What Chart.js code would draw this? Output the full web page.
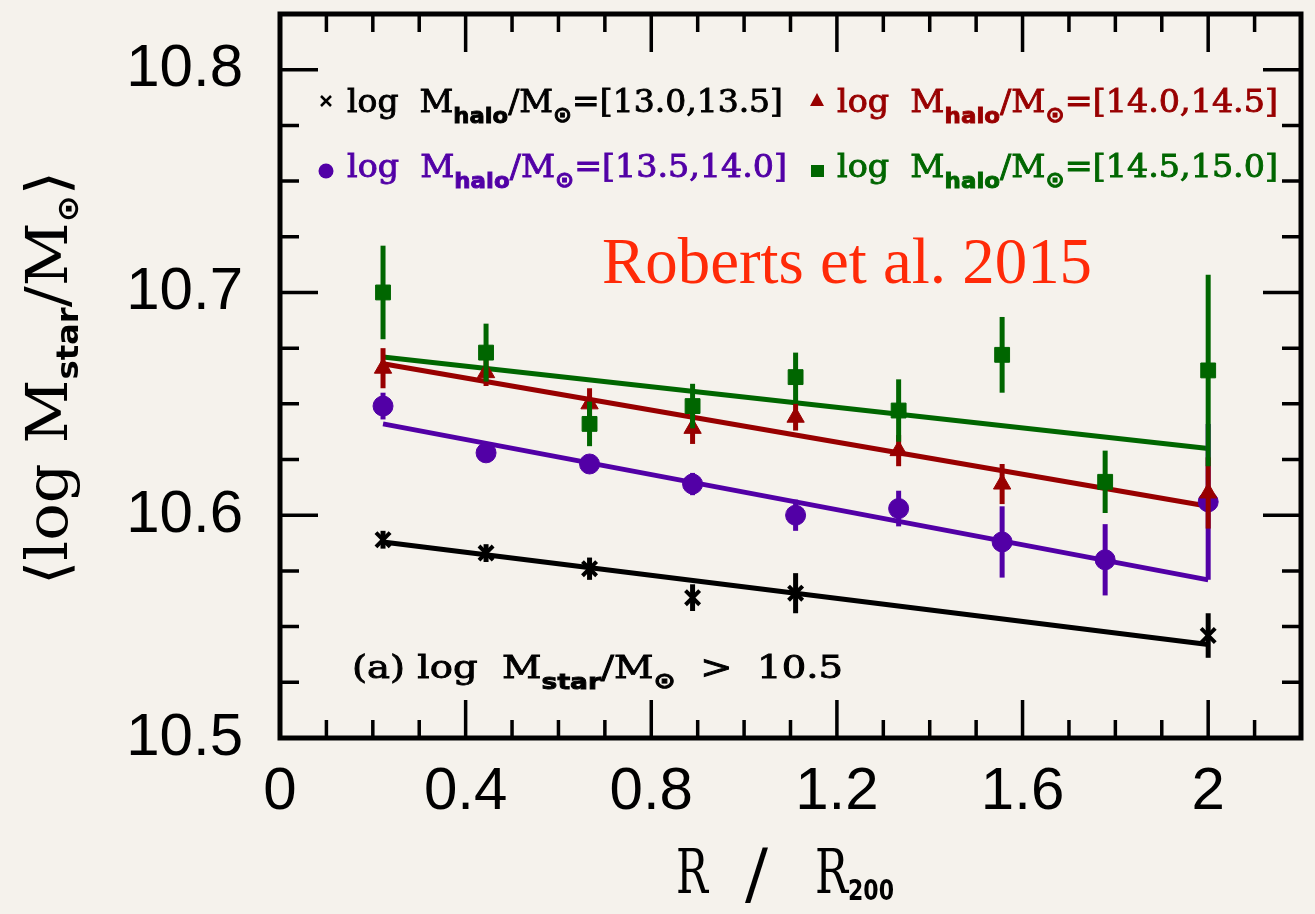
<!DOCTYPE html>
<html>
<head>
  <title>Mean stellar mass vs clustercentric radius</title>
  <script src="https://cdn.jsdelivr.net/npm/chart.js"></script>
  <style>
    html, body { margin: 0; padding: 0; background: #f5f2ec; }
    canvas { display: block; }
  </style>
</head>
<body>
  <canvas id="massChart" width="1315" height="914"></canvas>

  <script>
    // radial bins (R / R200)
    const xBins = [0.222, 0.444, 0.667, 0.889, 1.111, 1.333, 1.556, 1.778, 2.0];

    // <log Mstar/Msun> per halo mass bin, with error bar half-lengths
    const blackY   = [10.589, 10.583, 10.576, 10.563, 10.565, null, null, null, 10.546];
    const blackErr = [0.004, 0.004, 0.005, 0.006, 0.009, null, null, null, 0.010];
    const purpleY   = [10.649, 10.628, 10.623, 10.614, 10.600, 10.603, 10.588, 10.580, 10.606];
    const purpleErr = [0.006, 0.004, 0.004, 0.005, 0.007, 0.008, 0.016, 0.016, 0.035];
    const redY   = [10.666, 10.664, 10.650, 10.639, 10.644, 10.629, 10.614, null, 10.610];
    const redErr = [0.009, 0.006, 0.007, 0.007, 0.006, 0.007, 0.009, null, 0.016];
    const greenY   = [10.700, 10.673, 10.641, 10.649, 10.662, 10.647, 10.672, 10.615, 10.665];
    const greenErr = [0.021, 0.013, 0.010, 0.010, 0.011, 0.014, 0.017, 0.014, 0.043];

    // straight-line fits (end points)
    const fitX = [0.222, 2.0];
    const blackFit  = [10.588, 10.542];
    const purpleFit = [10.641, 10.571];
    const redFit    = [10.668, 10.604];
    const greenFit  = [10.671, 10.630];

    const xTickValues = [0, 0.4, 0.8, 1.2, 1.6, 2];
    const yTickValues = [10.5, 10.6, 10.7, 10.8];

    const legendRanges = ['[13.0,13.5]', '[14.0,14.5]', '[13.5,14.0]', '[14.5,15.0]'];

    const BLACK = '#000000', PURPLE = '#5200a6', RED = '#980000', GREEN = '#006600';

    function points(ys) {
      return xBins.map((x, i) => ({ x: x, y: ys[i] }));
    }
    function fitLine(ys) {
      return fitX.map((x, i) => ({ x: x, y: ys[i] }));
    }

    function pointSet(label, ys, errs, color, style, radius, order) {
      return {
        label: label, data: points(ys), errors: errs,
        pointStyle: style, pointRadius: radius,
        backgroundColor: color, borderColor: color,
        borderWidth: style === 'crossRot' ? 4 : 1,
        showLine: false, order: order
      };
    }
    function lineSet(label, ys, color) {
      return {
        label: label, data: fitLine(ys), showLine: true,
        borderColor: color, borderWidth: 5, pointRadius: 0, order: 20
      };
    }

    // error bars, drawn just before the points of each dataset
    const errorBars = {
      id: 'errorBars',
      beforeDatasetDraw(chart, args) {
        const ds = chart.data.datasets[args.index];
        if (!ds.errors) return;
        const c = chart.ctx, xs = chart.scales.x, ys = chart.scales.y;
        c.save();
        c.strokeStyle = ds.borderColor;
        c.lineWidth = 5;
        ds.data.forEach((p, i) => {
          if (p.y == null || ds.errors[i] == null) return;
          const px = xs.getPixelForValue(p.x);
          c.beginPath();
          c.moveTo(px, ys.getPixelForValue(p.y - ds.errors[i]));
          c.lineTo(px, ys.getPixelForValue(p.y + ds.errors[i]));
          c.stroke();
        });
        c.restore();
      }
    };

    // text pieces with sub-scripts, squeezed to a given width
    function drawRich(c, parts, x, y, targetW, weight) {
      let w = 0;
      parts.forEach(p => { c.font = p.font; w += c.measureText(p.t).width; });
      const sx = targetW ? targetW / w : 1;
      c.save();
      c.translate(x, y);
      c.scale(sx, 1);
      c.strokeStyle = c.fillStyle;
      c.lineWidth = weight || 0;
      let cx = 0;
      parts.forEach(p => {
        c.font = p.font;
        c.fillText(p.t, cx, p.dy || 0);
        if (weight) c.strokeText(p.t, cx, p.dy || 0);
        cx += c.measureText(p.t).width;
      });
      c.restore();
    }

    const serif = '"DejaVu Serif", serif';
    const sans = '"DejaVu Sans", sans-serif';

    // frame, inward ticks, legend and annotations
    const decorations = {
      id: 'decorations',
      afterDraw(chart) {
        const c = chart.ctx, a = chart.chartArea;
        const xs = chart.scales.x, ys = chart.scales.y;
        c.save();
        c.strokeStyle = '#000';
        c.lineWidth = 3.5;
        // x ticks every 0.1, long ones at labelled values
        for (let k = 1; k < 22; k++) {
          const v = k / 10;
          const major = xTickValues.some(t => Math.abs(t - v) < 1e-6);
          const len = major ? 38 : 18;
          const px = xs.getPixelForValue(v);
          c.beginPath();
          c.moveTo(px, a.bottom); c.lineTo(px, a.bottom - len);
          c.moveTo(px, a.top); c.lineTo(px, a.top + len);
          c.stroke();
        }
        // y ticks every 0.025
        for (let k = 1; k < 13; k++) {
          const v = 10.5 + k * 0.025;
          const major = yTickValues.some(t => Math.abs(t - v) < 1e-6);
          const len = major ? 38 : 19;
          const py = ys.getPixelForValue(v);
          c.beginPath();
          c.moveTo(a.left, py); c.lineTo(a.left + len, py);
          c.moveTo(a.right, py); c.lineTo(a.right - len, py);
          c.stroke();
        }
        c.lineWidth = 5;
        c.strokeRect(a.left, a.top, a.right - a.left, a.bottom - a.top);

        // legend
        const main = '32px ' + serif, sub = 'bold 22px ' + sans;
        const colors = [BLACK, RED, PURPLE, GREEN];
        const pos = [[347, 112, 436], [837, 112, 441], [347, 177, 440], [837, 177, 441]];
        colors.forEach((col, i) => {
          c.fillStyle = col;
          drawRich(c, [
            { t: 'log  M', font: main },
            { t: 'halo', font: sub, dy: 11 },
            { t: '/M', font: main },
            { t: '⊙', font: sub, dy: 10 },
            { t: '=' + legendRanges[i], font: main }
          ], pos[i][0], pos[i][1], pos[i][2], 0.9);
        });
        // legend markers
        c.strokeStyle = BLACK; c.lineWidth = 2.5;
        c.beginPath();
        c.moveTo(321, 96); c.lineTo(331, 106);
        c.moveTo(331, 96); c.lineTo(321, 106);
        c.stroke();
        c.fillStyle = RED;
        c.beginPath(); c.moveTo(817, 93); c.lineTo(824, 106); c.lineTo(810, 106); c.closePath(); c.fill();
        c.fillStyle = PURPLE;
        c.beginPath(); c.arc(326, 171, 7.5, 0, Math.PI * 2); c.fill();
        c.fillStyle = GREEN;
        c.fillRect(811, 165, 13, 12);

        // sample label
        c.fillStyle = '#ff2a08';
        drawRich(c, [{ t: 'Roberts et al. 2015', font: '65px "Liberation Serif", serif' }], 602, 283, 490);

        // panel note
        c.fillStyle = '#000';
        drawRich(c, [
          { t: '(a) log  M', font: main },
          { t: 'star', font: sub, dy: 11 },
          { t: '/M', font: main },
          { t: '⊙', font: sub, dy: 10 },
          { t: '  >  10.5', font: main }
        ], 352, 678, 491, 0.9);

        // y title (rotated)
        c.save();
        c.translate(67, 585);
        c.rotate(-Math.PI / 2);
        drawRich(c, [
          { t: '⟨log M', font: '58px ' + serif },
          { t: 'star', font: 'bold 30px ' + sans, dy: 11 },
          { t: '/M', font: '58px ' + serif },
          { t: '⊙', font: 'bold 30px ' + sans, dy: 11 },
          { t: '⟩', font: '58px ' + serif }
        ], 0, 0, 414);
        c.restore();

        // x title
        drawRich(c, [{ t: 'R', font: '62px ' + serif }], 676, 893, 32);
        drawRich(c, [{ t: '/', font: '68px ' + serif }], 745, 897, 23);
        drawRich(c, [{ t: 'R', font: '62px ' + serif }], 815, 893, 33);
        drawRich(c, [{ t: '200', font: 'bold 28px ' + sans }], 848, 900, 46);
        c.restore();
      }
    };

    const chart = new Chart(document.getElementById('massChart').getContext('2d'), {
      type: 'scatter',
      data: {
        datasets: [
          pointSet('13.0-13.5', blackY, blackErr, BLACK, 'crossRot', 10, 1),
          pointSet('14.5-15.0', greenY, greenErr, GREEN, 'rect', 10.5, 2),
          pointSet('14.0-14.5', redY, redErr, RED, 'triangle', 10, 3),
          pointSet('13.5-14.0', purpleY, purpleErr, PURPLE, 'circle', 10, 4),
          lineSet('fit 13.0-13.5', blackFit, BLACK),
          lineSet('fit 13.5-14.0', purpleFit, PURPLE),
          lineSet('fit 14.0-14.5', redFit, RED),
          lineSet('fit 14.5-15.0', greenFit, GREEN)
        ]
      },
      options: {
        responsive: false,
        animation: false,
        layout: { padding: { top: 13, right: 3, left: 0, bottom: 0 } },
        plugins: { legend: { display: false }, tooltip: { enabled: false } },
        scales: {
          x: {
            type: 'linear', min: 0, max: 2.2,
            grid: { display: false, drawTicks: false },
            border: { display: false },
            afterBuildTicks: s => { s.ticks = xTickValues.map(v => ({ value: v })); },
            afterFit: s => {
              s.height = 176;
              s.paddingLeft = 0; s.paddingRight = 0;
            },
            ticks: {
              color: '#000', padding: 18, maxRotation: 0,
              font: { family: '"Liberation Sans", sans-serif', size: 60 },
              callback: v => String(v)
            }
          },
          y: {
            type: 'linear', min: 10.5, max: 10.825,
            grid: { display: false, drawTicks: false },
            border: { display: false },
            afterBuildTicks: s => { s.ticks = yTickValues.map(v => ({ value: v })); },
            afterFit: s => {
              s.width = 280;
              s.paddingTop = 0; s.paddingBottom = 0;
            },
            ticks: {
              color: '#000', padding: 37,
              font: { family: '"Liberation Sans", sans-serif', size: 60 },
              callback: v => v.toFixed(1)
            }
          }
        }
      },
      plugins: [errorBars, decorations]
    });
  </script>
</body>
</html>
